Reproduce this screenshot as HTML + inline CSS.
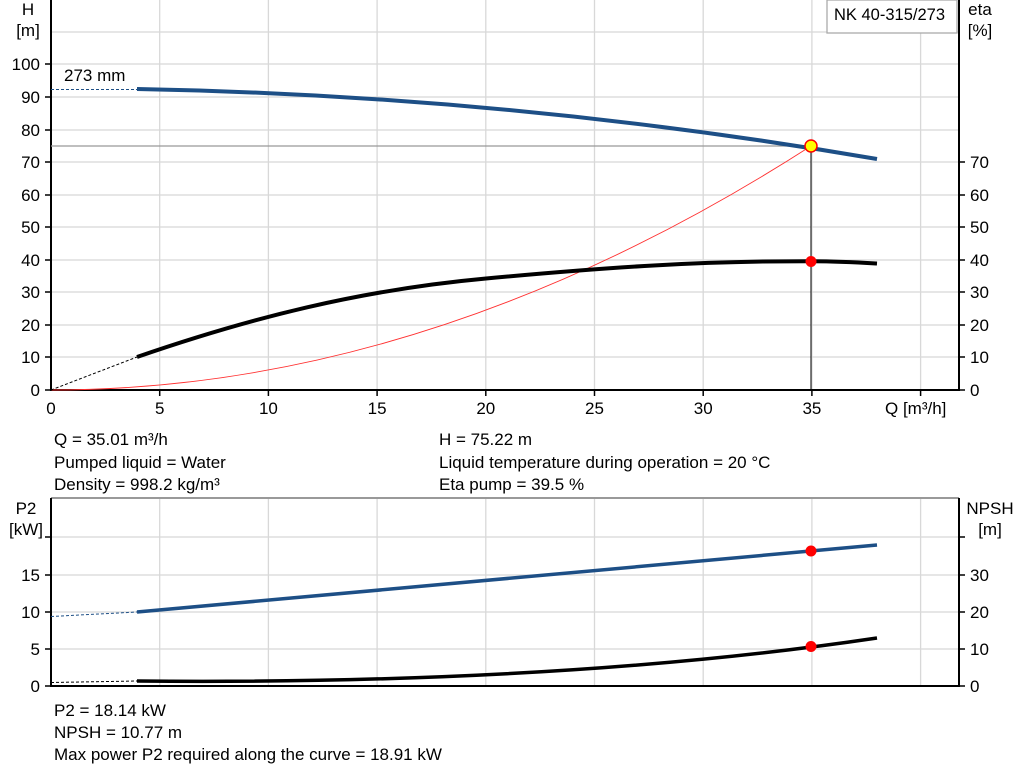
<!DOCTYPE html>
<html><head><meta charset="utf-8"><style>
body{margin:0;background:#fff}
svg{display:block;font-family:"Liberation Sans",Arial,sans-serif}
</style></head><body>
<svg width="1024" height="781" viewBox="0 0 1024 781" xmlns="http://www.w3.org/2000/svg">
<g stroke="#d8d8d8" stroke-width="1.3">
<line x1="159.7" y1="0" x2="159.7" y2="390"/><line x1="268.4" y1="0" x2="268.4" y2="390"/><line x1="377.1" y1="0" x2="377.1" y2="390"/><line x1="485.8" y1="0" x2="485.8" y2="390"/><line x1="594.5" y1="0" x2="594.5" y2="390"/><line x1="703.2" y1="0" x2="703.2" y2="390"/><line x1="811.9" y1="0" x2="811.9" y2="390"/><line x1="920.6" y1="0" x2="920.6" y2="390"/>
<line x1="51" y1="32" x2="959" y2="32"/><line x1="51" y1="64" x2="959" y2="64"/><line x1="51" y1="97" x2="959" y2="97"/><line x1="51" y1="130" x2="959" y2="130"/><line x1="51" y1="162" x2="959" y2="162"/><line x1="51" y1="195" x2="959" y2="195"/><line x1="51" y1="227" x2="959" y2="227"/><line x1="51" y1="260" x2="959" y2="260"/><line x1="51" y1="292" x2="959" y2="292"/><line x1="51" y1="325" x2="959" y2="325"/><line x1="51" y1="357" x2="959" y2="357"/>
<line x1="159.7" y1="498" x2="159.7" y2="686"/><line x1="268.4" y1="498" x2="268.4" y2="686"/><line x1="377.1" y1="498" x2="377.1" y2="686"/><line x1="485.8" y1="498" x2="485.8" y2="686"/><line x1="594.5" y1="498" x2="594.5" y2="686"/><line x1="703.2" y1="498" x2="703.2" y2="686"/><line x1="811.9" y1="498" x2="811.9" y2="686"/><line x1="920.6" y1="498" x2="920.6" y2="686"/>
<line x1="51" y1="537" x2="959" y2="537"/><line x1="51" y1="575" x2="959" y2="575"/><line x1="51" y1="612" x2="959" y2="612"/><line x1="51" y1="649" x2="959" y2="649"/>
</g>
<line x1="51" y1="498" x2="959" y2="498" stroke="#999" stroke-width="2"/>
<g stroke="#000" stroke-width="2" fill="none">
<path d="M51 0V390H959V0"/><path d="M51 498V686H959V498"/>
</g>
<g stroke="#000" stroke-width="1.5">
<line x1="45" y1="64" x2="51" y2="64"/><line x1="45" y1="97" x2="51" y2="97"/><line x1="45" y1="130" x2="51" y2="130"/><line x1="45" y1="162" x2="51" y2="162"/><line x1="45" y1="195" x2="51" y2="195"/><line x1="45" y1="227" x2="51" y2="227"/><line x1="45" y1="260" x2="51" y2="260"/><line x1="45" y1="292" x2="51" y2="292"/><line x1="45" y1="325" x2="51" y2="325"/><line x1="45" y1="357" x2="51" y2="357"/><line x1="45" y1="390" x2="51" y2="390"/>
<line x1="959" y1="162" x2="965" y2="162"/><line x1="959" y1="195" x2="965" y2="195"/><line x1="959" y1="227" x2="965" y2="227"/><line x1="959" y1="260" x2="965" y2="260"/><line x1="959" y1="292" x2="965" y2="292"/><line x1="959" y1="325" x2="965" y2="325"/><line x1="959" y1="357" x2="965" y2="357"/><line x1="959" y1="390" x2="965" y2="390"/>
<line x1="159.7" y1="390" x2="159.7" y2="396"/><line x1="268.4" y1="390" x2="268.4" y2="396"/><line x1="377.1" y1="390" x2="377.1" y2="396"/><line x1="485.8" y1="390" x2="485.8" y2="396"/><line x1="594.5" y1="390" x2="594.5" y2="396"/><line x1="703.2" y1="390" x2="703.2" y2="396"/><line x1="811.9" y1="390" x2="811.9" y2="396"/><line x1="920.6" y1="390" x2="920.6" y2="396"/>
<line x1="45" y1="537" x2="51" y2="537"/><line x1="45" y1="575" x2="51" y2="575"/><line x1="45" y1="612" x2="51" y2="612"/><line x1="45" y1="649" x2="51" y2="649"/><line x1="45" y1="686" x2="51" y2="686"/>
<line x1="959" y1="537" x2="965" y2="537"/><line x1="959" y1="575" x2="965" y2="575"/><line x1="959" y1="612" x2="965" y2="612"/><line x1="959" y1="649" x2="965" y2="649"/><line x1="959" y1="686" x2="965" y2="686"/>
</g>
<g font-size="17" fill="#000">
<g text-anchor="end"><text x="40" y="70">100</text><text x="40" y="103">90</text><text x="40" y="136">80</text><text x="40" y="168">70</text><text x="40" y="201">60</text><text x="40" y="233">50</text><text x="40" y="266">40</text><text x="40" y="298">30</text><text x="40" y="331">20</text><text x="40" y="363">10</text><text x="40" y="396">0</text>
<text x="40" y="581">15</text><text x="40" y="618">10</text><text x="40" y="655">5</text><text x="40" y="692">0</text></g>
<g><text x="970" y="168">70</text><text x="970" y="201">60</text><text x="970" y="233">50</text><text x="970" y="266">40</text><text x="970" y="298">30</text><text x="970" y="331">20</text><text x="970" y="363">10</text><text x="970" y="396">0</text>
<text x="970" y="581">30</text><text x="970" y="618">20</text><text x="970" y="655">10</text><text x="970" y="692">0</text></g>
<g text-anchor="middle"><text x="51" y="414">0</text><text x="159.7" y="414">5</text><text x="268.4" y="414">10</text><text x="377.1" y="414">15</text><text x="485.8" y="414">20</text><text x="594.5" y="414">25</text><text x="703.2" y="414">30</text><text x="811.9" y="414">35</text>
<text x="28" y="15">H</text><text x="28" y="36">[m]</text><text x="980" y="15">eta</text><text x="980" y="36">[%]</text>
<text x="26" y="514">P2</text><text x="26" y="535">[kW]</text><text x="990" y="514">NPSH</text><text x="990" y="535">[m]</text></g>
<text x="885" y="414">Q [m³/h]</text>
<text x="64" y="81">273 mm</text>
<text x="54" y="445">Q = 35.01 m³/h</text><text x="54" y="468">Pumped liquid = Water</text><text x="54" y="490">Density = 998.2 kg/m³</text>
<text x="439" y="445">H = 75.22 m</text><text x="439" y="468">Liquid temperature during operation = 20 °C</text><text x="439" y="490">Eta pump = 39.5 %</text>
<text x="54" y="716">P2 = 18.14 kW</text><text x="54" y="738">NPSH = 10.77 m</text><text x="54" y="760">Max power P2 required along the curve = 18.91 kW</text>
</g>
<rect x="827" y="0" width="130" height="33" fill="#fff" stroke="#aaa" stroke-width="1.3"/>
<text x="834" y="20" font-size="16.5">NK 40-315/273</text>
<line x1="51" y1="146" x2="811" y2="146" stroke="#999" stroke-width="1.3"/>
<line x1="811" y1="146" x2="811" y2="390" stroke="#000" stroke-width="1"/>
<path d="M51 390 Q431 390 811 146" fill="none" stroke="#ff3030" stroke-width="0.9"/>
<line x1="51" y1="89.5" x2="137" y2="89.5" stroke="#1d4f86" stroke-width="1" stroke-dasharray="3,2"/>
<line x1="51" y1="390" x2="137" y2="357" stroke="#000" stroke-width="1" stroke-dasharray="3,2"/>
<line x1="51" y1="616.5" x2="137" y2="612" stroke="#1d4f86" stroke-width="1" stroke-dasharray="3,2"/>
<line x1="51" y1="682.5" x2="137" y2="681" stroke="#000" stroke-width="1" stroke-dasharray="3,2"/>
<path d="M137 89 Q507.5 95.7 877 159" fill="none" stroke="#1d4f86" stroke-width="4"/>
<path d="M137 357 C250 318 360 290 486 278.5 C610 267 700 261 812 261.2 C840 261.3 860 262.5 877 263.5" fill="none" stroke="#000" stroke-width="4"/>
<path d="M137 612 Q507 578 877 545" fill="none" stroke="#1d4f86" stroke-width="3.5"/>
<path d="M137 681 Q560 685 877 638" fill="none" stroke="#000" stroke-width="3.5"/>
<circle cx="811" cy="146" r="6" fill="#ffff00" stroke="#ff0000" stroke-width="1.5"/>
<circle cx="811" cy="261.5" r="5.5" fill="#ff0000"/>
<circle cx="811" cy="551" r="5.5" fill="#ff0000"/>
<circle cx="811" cy="646.5" r="5.5" fill="#ff0000"/>
</svg>
</body></html>
